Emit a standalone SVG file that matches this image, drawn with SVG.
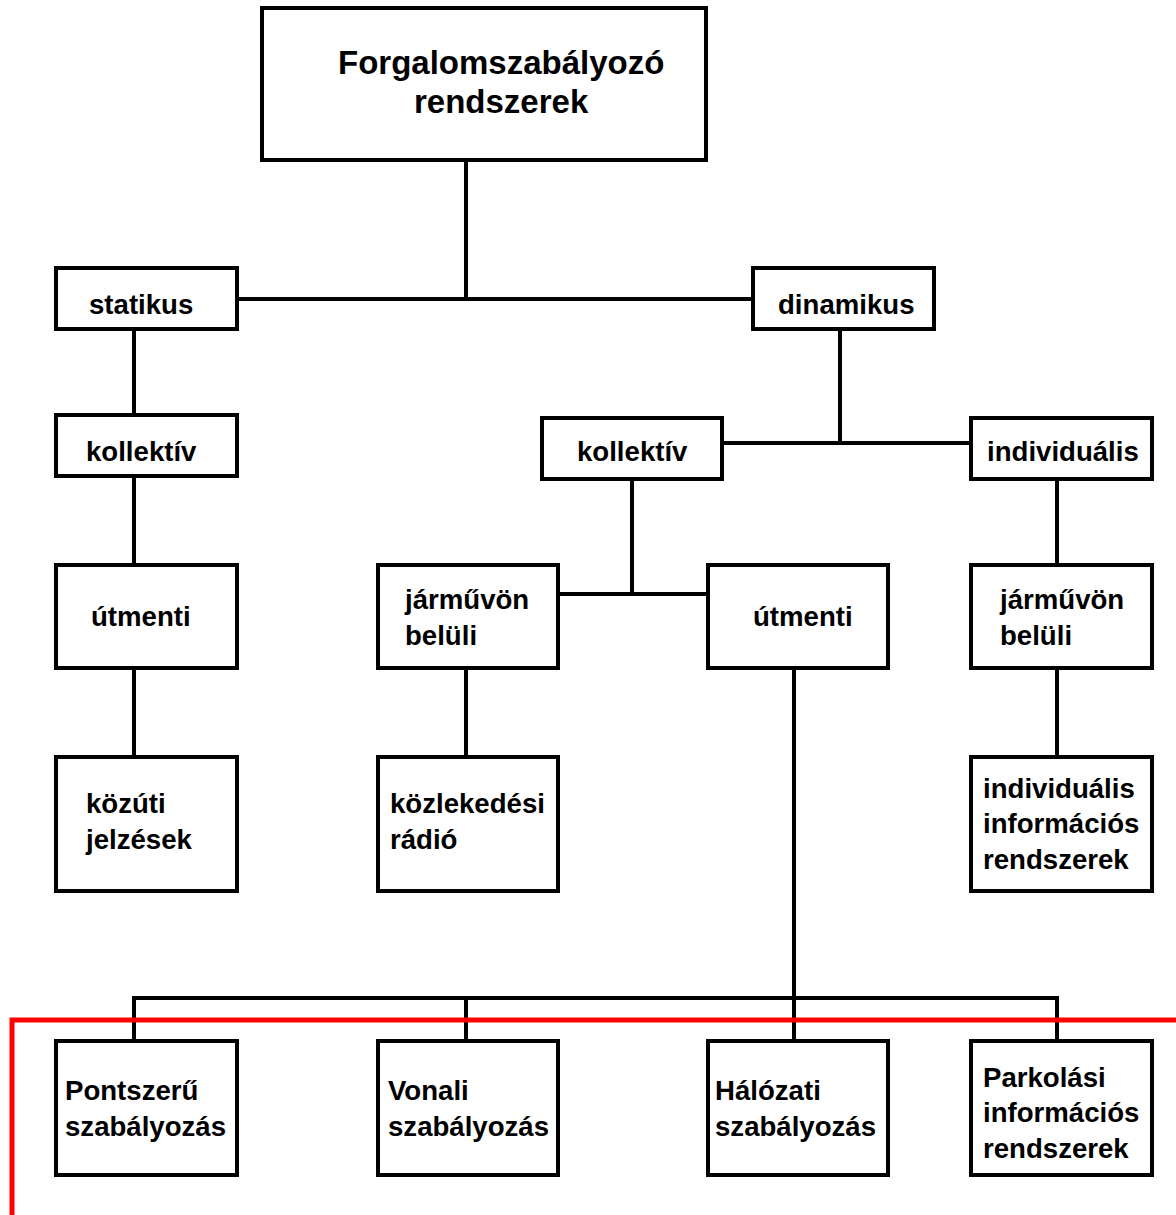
<svg xmlns="http://www.w3.org/2000/svg" width="1176" height="1215" viewBox="0 0 1176 1215">
  <style>
    .box { fill: #ffffff; stroke: #000000; stroke-width: 4; }
    .lbl { font-family: "Liberation Sans", Arial, sans-serif; font-weight: bold; font-size: 27.6px; fill: #000000; }
    .title { font-size: 33px; }
    .wire { fill: none; stroke: #000000; stroke-width: 4; }
    .mark { fill: none; stroke: #ff0000; stroke-width: 5; }
  </style>
  <rect width="1176" height="1215" fill="#ffffff"/>

  <!-- connectors -->
  <g id="connectors">
    <path class="wire" d="M466 160 V299 M237 299 H753"/>
    <path class="wire" d="M134 329 V415 M134 476 V565 M134 668 V757"/>
    <path class="wire" d="M840 329 V443 M722 443 H971"/>
    <path class="wire" d="M632 479 V594 M558 594 H708"/>
    <path class="wire" d="M466 668 V757"/>
    <path class="wire" d="M1057 479 V565 M1057 668 V757"/>
    <path class="wire" d="M794 668 V1041 M134 1041 V998 H1057 V1041 M466 998 V1041"/>
  </g>

  <!-- red boundary line -->
  <path class="mark" d="M12 1215 V1020 H1176"/>

  <g id="root">
    <rect class="box" x="262" y="8" width="444" height="152"/>
    <text class="lbl title" x="338" y="74">Forgalomszabályozó</text>
    <text class="lbl title" x="414" y="113">rendszerek</text>
  </g>
  <g id="statikus">
    <rect class="box" x="56" y="268" width="181" height="61"/>
    <text class="lbl" x="89" y="314">statikus</text>
  </g>
  <g id="dinamikus">
    <rect class="box" x="753" y="268" width="181" height="61"/>
    <text class="lbl" x="778" y="314">dinamikus</text>
  </g>
  <g id="kollektiv-s">
    <rect class="box" x="56" y="415" width="181" height="61"/>
    <text class="lbl" x="86" y="461">kollektív</text>
  </g>
  <g id="kollektiv-d">
    <rect class="box" x="542" y="418" width="180" height="61"/>
    <text class="lbl" x="577" y="461">kollektív</text>
  </g>
  <g id="individualis">
    <rect class="box" x="971" y="418" width="181" height="61"/>
    <text class="lbl" x="987" y="461">individuális</text>
  </g>
  <g id="utmenti-s">
    <rect class="box" x="56" y="565" width="181" height="103"/>
    <text class="lbl" x="91" y="626">útmenti</text>
  </g>
  <g id="jarmuvon-k">
    <rect class="box" x="378" y="565" width="180" height="103"/>
    <text class="lbl" x="405" y="609">járművön</text>
    <text class="lbl" x="405" y="645">belüli</text>
  </g>
  <g id="utmenti-d">
    <rect class="box" x="708" y="565" width="180" height="103"/>
    <text class="lbl" x="753" y="626">útmenti</text>
  </g>
  <g id="jarmuvon-i">
    <rect class="box" x="971" y="565" width="181" height="103"/>
    <text class="lbl" x="1000" y="609">járművön</text>
    <text class="lbl" x="1000" y="645">belüli</text>
  </g>
  <g id="kozuti">
    <rect class="box" x="56" y="757" width="181" height="134"/>
    <text class="lbl" x="86" y="813">közúti</text>
    <text class="lbl" x="86" y="849">jelzések</text>
  </g>
  <g id="radio">
    <rect class="box" x="378" y="757" width="180" height="134"/>
    <text class="lbl" x="390" y="813">közlekedési</text>
    <text class="lbl" x="390" y="849">rádió</text>
  </g>
  <g id="indiv-info">
    <rect class="box" x="971" y="757" width="181" height="134"/>
    <text class="lbl" x="983" y="798">individuális</text>
    <text class="lbl" x="983" y="833">információs</text>
    <text class="lbl" x="983" y="869">rendszerek</text>
  </g>
  <g id="pontszeru">
    <rect class="box" x="56" y="1041" width="181" height="134"/>
    <text class="lbl" x="65" y="1100">Pontszerű</text>
    <text class="lbl" x="65" y="1136">szabályozás</text>
  </g>
  <g id="vonali">
    <rect class="box" x="378" y="1041" width="180" height="134"/>
    <text class="lbl" x="388" y="1100">Vonali</text>
    <text class="lbl" x="388" y="1136">szabályozás</text>
  </g>
  <g id="halozati">
    <rect class="box" x="708" y="1041" width="180" height="134"/>
    <text class="lbl" x="715" y="1100">Hálózati</text>
    <text class="lbl" x="715" y="1136">szabályozás</text>
  </g>
  <g id="parkolasi">
    <rect class="box" x="971" y="1041" width="181" height="134"/>
    <text class="lbl" x="983" y="1087">Parkolási</text>
    <text class="lbl" x="983" y="1122">információs</text>
    <text class="lbl" x="983" y="1158">rendszerek</text>
  </g>
</svg>
